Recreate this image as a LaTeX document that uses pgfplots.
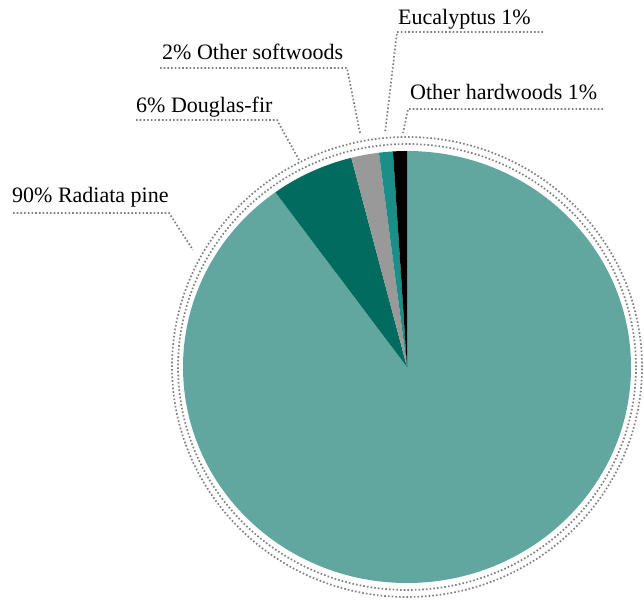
\documentclass[border=0pt]{standalone}
\usepackage{pgfplots}
\pgfplotsset{compat=1.18}
\usepackage{pgfplotstable}
\usepackage{fontspec}
\setmainfont{Liberation Serif}

\definecolor{radiata}{HTML}{62A6A0}
\definecolor{douglas}{HTML}{006B5E}
\definecolor{softw}{HTML}{999999}
\definecolor{eucal}{HTML}{1B8E87}
\definecolor{hardw}{HTML}{000000}
\definecolor{dotgray}{HTML}{808080}

% Species shares (percent), in clockwise order from twelve o'clock
\pgfplotstableread{
share colour
90 radiata
6  douglas
2  softw
1  eucal
1  hardw
}\shares

\tikzset{ldr/.style={draw=dotgray, line width=1.7pt, dash pattern=on 1.6pt off 2.1pt}}

\begin{document}
\begin{tikzpicture}
\begin{axis}[
  width=644pt, height=602pt, scale only axis,
  xmin=0, xmax=644, ymin=0, ymax=602,
  axis lines=none, ticks=none, clip=false,
]
\pgfplotsextra{
  % keep the full canvas in the bounding box
  \path (axis cs:0,0) rectangle (axis cs:644,602);
  \pgfplotstablegetrowsof{\shares}
  \pgfmathtruncatemacro\lastrow{\pgfplotsretval-1}
  \xdef\startang{90}
  \foreach \i in {0,...,\lastrow}{
    \pgfplotstablegetelem{\i}{share}\of\shares
    \let\val\pgfplotsretval
    \pgfplotstablegetelem{\i}{colour}\of\shares
    \let\col\pgfplotsretval
    \pgfmathsetmacro\endang{\startang-3.6*\val}
    \fill[\col] (axis cs:407,235) -- ++({224pt*cos(\startang)},{216pt*sin(\startang)})
      arc[start angle=\startang, end angle=\endang, x radius=224pt, y radius=216pt] -- cycle;
    \xdef\startang{\endang}
  }
  % double dotted rings
  \draw[ldr] (axis cs:407,235) ellipse [x radius=229pt, y radius=223pt];
  \draw[ldr] (axis cs:407,235) ellipse [x radius=235pt, y radius=230pt];
  % leader lines
  \draw[ldr] (axis cs:13,389) -- (axis cs:169,389) -- (axis cs:193,352);
  \draw[ldr] (axis cs:136,482) -- (axis cs:277,482) -- (axis cs:299,442);
  \draw[ldr] (axis cs:160,534) -- (axis cs:347,534) -- (axis cs:360,469);
  \draw[ldr] (axis cs:543,570) -- (axis cs:397,570) -- (axis cs:385,469);
  \draw[ldr] (axis cs:603,493) -- (axis cs:408,493) -- (axis cs:403,469);
  % labels
  \begingroup
  \fontsize{22}{26}\selectfont
  \node[anchor=base west, inner sep=0pt] at (axis cs:12,399) {90\% Radiata pine};
  \node[anchor=base west, inner sep=0pt] at (axis cs:136,489) {6\% Douglas-fir};
  \node[anchor=base west, inner sep=0pt] at (axis cs:162,542) {2\% Other softwoods};
  \node[anchor=base west, inner sep=0pt] at (axis cs:398,577) {Eucalyptus 1\%};
  \node[anchor=base west, inner sep=0pt] at (axis cs:410,502) {Other hardwoods 1\%};
  \endgroup
}
\end{axis}
\end{tikzpicture}
\end{document}
